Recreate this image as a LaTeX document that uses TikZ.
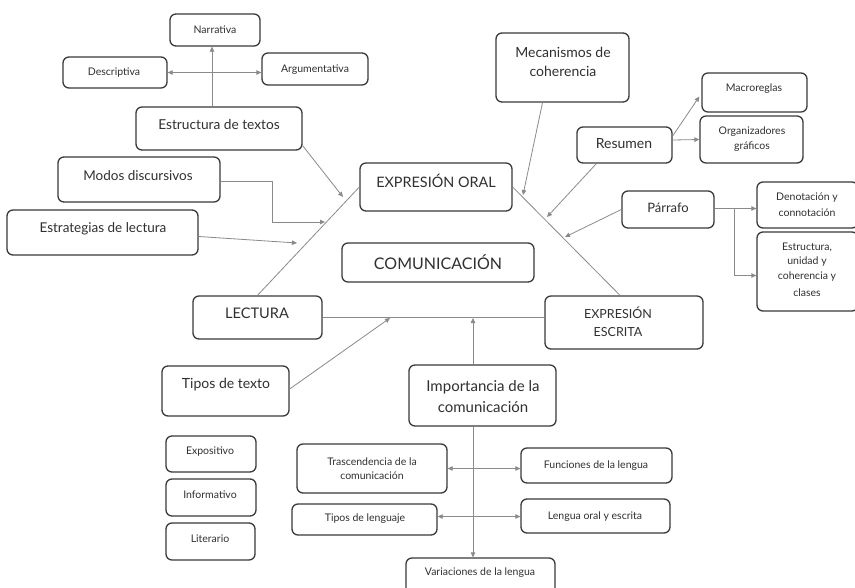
\documentclass[tikz,border=0pt]{standalone}
\usepackage{fontspec}
\setmainfont{Lato}
\usetikzlibrary{arrows.meta,fit,calc}
\definecolor{boxc}{HTML}{3A3A3A}
\definecolor{linec}{HTML}{8A8A8A}
\definecolor{txtc}{HTML}{303030}
\tikzset{
  box/.style={draw=boxc, line width=1.3pt, rounded corners=6pt, inner sep=0pt},
  lbl/.style={text=txtc, align=center, inner sep=0pt, font=\fontsize{#1}{#1}\selectfont},
  lbl/.default=12,
  conn/.style={draw=linec, line width=0.8pt},
  arr/.style={conn, -{Triangle[length=5pt,width=4.5pt]}},
  darr/.style={conn, {Triangle[length=5pt,width=4.5pt]}-{Triangle[length=5pt,width=4.5pt]}},
}
\begin{document}
\begin{tikzpicture}[x=1pt,y=-1pt]
\useasboundingbox[fill=white] (0,0) rectangle (855,587);
\begin{scope}
\clip (0,0) rectangle (855,587);
% boxes
\node[box, fit={(170,14) (260,46)}] (narr) {};
\node[box, fit={(63,57) (167,88)}] (desc) {};
\node[box, fit={(262,53) (368,85)}] (argu) {};
\node[box, fit={(136,107) (302,150)}] (estr) {};
\node[box, fit={(58,157) (220,202)}] (modos) {};
\node[box, fit={(7,210) (198,255)}] (estrat) {};
\node[box, fit={(360,163) (512,211)}] (oral) {};
\node[box, fit={(496,33) (629,102)}] (meca) {};
\node[box, fit={(702,73) (807,112)}] (macro) {};
\node[box, fit={(700,116) (803,163)}] (organ) {};
\node[box, fit={(577,127) (672,163)}] (resu) {};
\node[box, fit={(622,191) (714,228)}] (parr) {};
\node[box, fit={(757,182) (858,228)}] (deno) {};
\node[box, fit={(757,232) (858,311)}] (estu) {};
\node[box, fit={(342,243) (534,282)}] (comu) {};
\node[box, fit={(545,296) (703,349)}] (escr) {};
\node[box, fit={(193,296) (322,339)}] (lect) {};
\node[box, fit={(162,366) (289,416)}] (tipt) {};
\node[box, fit={(166,436) (256,472)}] (expo) {};
\node[box, fit={(166,479) (256,516)}] (info) {};
\node[box, fit={(166,523) (255,560)}] (lite) {};
\node[box, fit={(409,365) (556,426)}] (impo) {};
\node[box, fit={(297,444) (447,493)}] (tras) {};
\node[box, fit={(292,504) (437,535)}] (tlen) {};
\node[box, fit={(521,448) (672,483)}] (func) {};
\node[box, fit={(521,499) (670,533)}] (lora) {};
\node[box, fit={(406,558) (555,600)}] (vari) {};
% labels
\node[lbl=10.5] at (215,30) {Narrativa};
\node[lbl=10.5] at (114,73) {Descriptiva};
\node[lbl=10.5] at (315,70) {Argumentativa};
\node[lbl=13.7] at (219,125) {Estructura de textos};
\node[lbl=13.5] at (138,176) {Modos discursivos};
\node[lbl=13.5] at (103,229) {Estrategias de lectura};
\node[lbl=14.4] at (436,181) {EXPRESIÓN ORAL};
\node[lbl=14] at (563,52) {Mecanismos de};
\node[lbl=14] at (563,71) {coherencia};
\node[lbl=10.5] at (754,89) {Macroreglas};
\node[lbl=10.5] at (752,132) {Organizadores};
\node[lbl=10.5] at (752,147) {gráficos};
\node[lbl=14] at (624,144) {Resumen};
\node[lbl=13] at (668,208) {Párrafo};
\node[lbl=10.5] at (807,198) {Denotación y};
\node[lbl=10.5] at (807,213) {connotación};
\node[lbl=10.5] at (807,247) {Estructura,};
\node[lbl=10.5] at (807,262) {unidad y};
\node[lbl=10.5] at (807,277) {coherencia y};
\node[lbl=10.5] at (807,293) {clases};
\node[lbl=16] at (438,262) {COMUNICACIÓN};
\node[lbl=12.5] at (618,313) {EXPRESIÓN};
\node[lbl=12.5] at (618,332) {ESCRITA};
\node[lbl=14.6] at (257,313) {LECTURA};
\node[lbl=14] at (226,385) {Tipos de texto};
\node[lbl=10.5] at (210,452) {Expositivo};
\node[lbl=10.5] at (210,495) {Informativo};
\node[lbl=10.5] at (210,539) {Literario};
\node[lbl=15] at (483,387) {Importancia de la};
\node[lbl=15] at (483,407) {comunicación};
\node[lbl=10.5] at (372,462) {Trascendencia de la};
\node[lbl=10.5] at (372,476) {comunicación};
\node[lbl=10.5] at (365,519) {Tipos de lenguaje};
\node[lbl=10.5] at (596,466) {Funciones de la lengua};
\node[lbl=10.5] at (595,517) {Lengua oral y escrita};
\node[lbl=10.5] at (480,573) {Variaciones de la lengua};
% arrow tip coordinates
\coordinate (tA) at (343,197);
\coordinate (tB) at (325,222);
\coordinate (tC) at (297,243);
\coordinate (tD) at (390,318);
\coordinate (tE) at (473,318);
\coordinate (tF) at (523,195);
\coordinate (tG) at (547,217);
\coordinate (tH) at (565,237);
\coordinate (bP) at (734,208);
\coordinate (sL) at ([yshift=3pt]tlen.east);
\coordinate (sP) at ([yshift=1pt]parr.east);
% triangle
\draw[conn] (lect.north) -- (oral.west);
\draw[conn] (oral.east) -- ([xshift=-4pt]escr.north);
\draw[conn] (lect.east) -- (escr.west |- lect.east);
% connectors
\draw[arr] (estr.north -| 212,0) -- (narr.south -| 212,0);
\draw[darr] (desc.east) -- (argu.west |- desc.east);
\draw[arr] ([yshift=5pt]estr.south east) -- (tA);
\draw[arr] ([yshift=-2pt]modos.east) -| ++(52,0) |- (tB);
\draw[arr] ([yshift=-4pt]estrat.east) -- (tC);
\draw[arr] ([yshift=2pt]tipt.east) -- (tD);
\draw[arr] (impo.north -| tE) -- (tE);
\draw[arr] (impo.south -| tE) -- (vari.north -| tE);
\draw[darr] (tras.east) -- (func.west |- tras.east);
\draw[darr] (sL) -- (lora.west |- sL);
\draw[arr] ([xshift=-20pt]meca.south) -- (tF);
\draw[arr] ([xshift=20pt]resu.south west) -- (tG);
\draw[arr] (parr.west) -- (tH);
\draw[arr] ([yshift=9pt]resu.east) -- ([xshift=-2pt,yshift=-4pt]macro.west);
\draw[arr] ([yshift=5pt]resu.east) -- (organ.west);
\draw[arr] (sP) -- (deno.west |- sP);
\draw[arr] (bP) |- ([yshift=-4pt]estu.west);
\end{scope}
\end{tikzpicture}
\end{document}
